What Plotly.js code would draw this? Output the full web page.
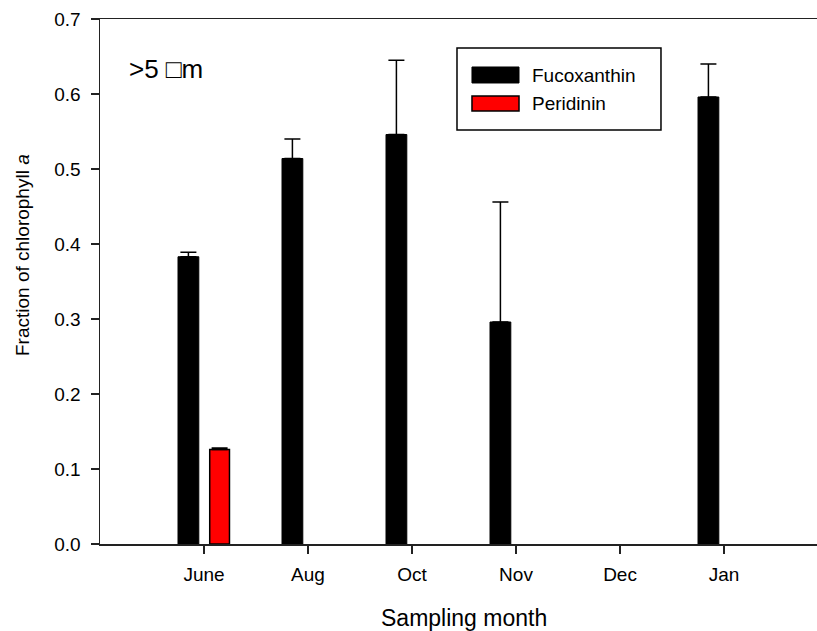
<!DOCTYPE html>
<html>
<head>
<meta charset="utf-8">
<script src="https://cdn.plot.ly/plotly-3.0.1.min.js"></script>
<style>html,body{margin:0;padding:0;background:#fff;overflow:hidden}</style>
</head>
<body>
<div id="chart" style="width:817px;height:631px"></div>
<script>
const months = ['June', 'Aug', 'Oct', 'Nov', 'Dec', 'Jan'];
const fucoxanthin = [0.383, 0.514, 0.546, 0.296, null, 0.596];
const fucoxanthinErr = [0.006, 0.026, 0.099, 0.160, null, 0.044];
const peridinin = [0.126, null, null, null, null, null];
const peridininErr = [0.002, null, null, null, null, null];
const zeros = [0, 0, 0, 0, 0, 0];
const seriesNames = ['Fucoxanthin', 'Peridinin'];
const seriesColors = ['#000000', '#ff0000'];

const FONT = 'Liberation Sans, Arial, sans-serif';

const traces = [
  {
    type: 'bar', name: seriesNames[0], x: months, y: fucoxanthin,
    width: 0.2, offset: -0.25,
    marker: {color: seriesColors[0], line: {color: '#000', width: 1}},
    error_y: {type: 'data', symmetric: false, array: fucoxanthinErr, arrayminus: zeros,
              color: '#000', thickness: 1.5, width: 8},
    showlegend: false
  },
  {
    type: 'bar', name: seriesNames[1], x: months, y: peridinin,
    width: 0.19, offset: 0.055,
    marker: {color: seriesColors[1], line: {color: '#000', width: 1.5}},
    error_y: {type: 'data', symmetric: false, array: peridininErr, arrayminus: zeros,
              color: '#000', thickness: 1.5, width: 8},
    showlegend: false
  }
];

const layout = {
  width: 817, height: 631,
  margin: {l: 100, r: 0, t: 19, b: 87},
  paper_bgcolor: '#fff', plot_bgcolor: '#fff',
  font: {family: FONT, size: 19, color: '#000'},
  barmode: 'overlay',
  xaxis: {
    type: 'category', range: [-1, 5.894],
    showline: true, linecolor: '#222', linewidth: 1.5, mirror: true,
    ticks: 'outside', ticklen: 8, tickwidth: 1.5, tickcolor: '#222',
    ticklabelstandoff: 5,
    showgrid: false, zeroline: false,
    tickfont: {family: FONT, size: 19, color: '#000'}
  },
  yaxis: {
    range: [0, 0.7], dtick: 0.1, tick0: 0, tickformat: '.1f',
    showline: true, linecolor: '#222', linewidth: 1.5,
    ticks: 'outside', ticklen: 8, tickwidth: 1.5, tickcolor: '#222',
    ticklabelstandoff: 6,
    showgrid: false, zeroline: false,
    tickfont: {family: FONT, size: 19, color: '#000'}
  },
  shapes: [
    {type: 'rect', xref: 'paper', yref: 'paper', x0: 0.4979, x1: 0.7824, y0: 0.7886, y1: 0.9448,
     line: {color: '#000', width: 1.5}, fillcolor: 'rgba(0,0,0,0)'},
    {type: 'rect', xref: 'paper', yref: 'paper', x0: 0.5188, x1: 0.5844, y0: 0.8781, y1: 0.9086,
     line: {color: '#000', width: 1}, fillcolor: seriesColors[0]},
    {type: 'rect', xref: 'paper', yref: 'paper', x0: 0.5188, x1: 0.5844, y0: 0.8248, y1: 0.8533,
     line: {color: '#000', width: 1.5}, fillcolor: seriesColors[1]}
  ],
  annotations: [
    {xref: 'paper', yref: 'paper', x: 0.5997, y: 0.8933, xanchor: 'left', yanchor: 'middle',
     text: seriesNames[0], showarrow: false, font: {family: FONT, size: 19, color: '#000'}},
    {xref: 'paper', yref: 'paper', x: 0.5997, y: 0.8390, xanchor: 'left', yanchor: 'middle',
     text: seriesNames[1], showarrow: false, font: {family: FONT, size: 19, color: '#000'}},
    {xref: 'paper', yref: 'paper', x: 0.037, y: 0.905, xanchor: 'left', yanchor: 'middle',
     text: '>5 \u25A1m', showarrow: false, font: {family: FONT, size: 26, color: '#000'}},
    {xref: 'paper', yref: 'paper', x: 0.5077, y: -0.141, xanchor: 'center', yanchor: 'middle',
     text: 'Sampling month', showarrow: false, font: {family: FONT, size: 23, color: '#000'}},
    {xref: 'paper', yref: 'paper', x: -0.1074, y: 0.5505, xanchor: 'center', yanchor: 'middle',
     textangle: -90, text: 'Fraction of chlorophyll <i>a</i>', showarrow: false,
     font: {family: FONT, size: 19, color: '#000'}}
  ]
};

Plotly.newPlot('chart', traces, layout, {displayModeBar: false, staticPlot: true});
</script>
</body>
</html>
